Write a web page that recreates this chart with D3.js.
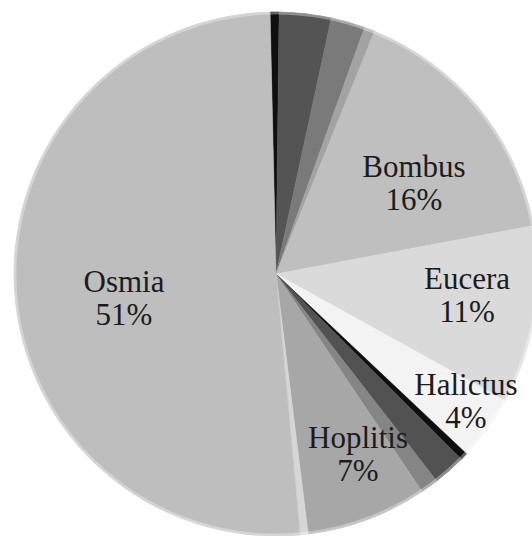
<!DOCTYPE html>
<html>
<head>
<meta charset="utf-8">
<script src="https://cdn.jsdelivr.net/npm/d3@7/dist/d3.min.js"></script>
<style>
  html, body { margin: 0; padding: 0; background: #fff; }
  svg { display: block; }
  text.lbl { font-family: "Liberation Serif", "DejaVu Serif", serif; font-size: 31px; fill: #1c1c1c; }
</style>
</head>
<body>
<svg id="chart" width="532" height="536"></svg>
<script>
// Data (percent share per genus, clockwise from 12 o'clock)
const genera = ["g1", "g2", "g3", "g4", "Bombus", "Eucera", "Halictus", "g5", "g6", "g7", "Hoplitis", "g8", "Osmia"];
const shares = [0.55, 3.2, 2.1, 0.65, 15.9, 11.0, 4.0, 0.45, 2.0, 1.1, 7.45, 0.5, 51.1];
const shareLabels = ["", "", "", "", "16%", "11%", "4%", "", "", "", "7%", "", "51%"];
const fills = ["#0f0f0f", "#545454", "#7a7a7a", "#a3a3a3", "#bfbfbf", "#dadada", "#f3f3f3",
               "#0f0f0f", "#525252", "#858585", "#a7a7a7", "#d6d6d6", "#bebebe"];

const svg = d3.select("#chart");
const cx = 276, cy = 274, R = 262;
const start = -1.3 * Math.PI / 180;

const data = genera.map((g, i) => ({ name: g, value: shares[i], label: shareLabels[i], fill: fills[i] }));

const pie = d3.pie().sort(null).value(d => d.value)
  .startAngle(start).endAngle(start + 2 * Math.PI);
const arc = d3.arc().innerRadius(0).outerRadius(R);

const g = svg.append("g").attr("transform", `translate(${cx},${cy})`);
const arcs = pie(data);

g.selectAll("path.slice").data(arcs).join("path")
  .attr("class", "slice")
  .attr("d", arc)
  .attr("fill", d => d.data.fill)
  .attr("stroke", d => d.data.fill)
  .attr("stroke-width", 0.5);

// subtle light rim
g.append("circle").attr("r", R - 1.2).attr("fill", "none")
  .attr("stroke", "#ffffff").attr("stroke-opacity", 0.35).attr("stroke-width", 2.5);

// label layout: offset of first baseline from pie centre
const labelLayout = {
  Bombus:   { dx: 138, dy: -97 },
  Eucera:   { dx: 191, dy: 15 },
  Halictus: { dx: 190, dy: 121 },
  Hoplitis: { dx: 82,  dy: 174 },
  Osmia:    { dx: -152, dy: 18 }
};
const lineGap = 33;

const labelled = arcs.filter(d => labelLayout[d.data.name]);
const txt = g.selectAll("text.lbl").data(labelled).join("text")
  .attr("class", "lbl")
  .attr("text-anchor", "middle")
  .attr("transform", d => `translate(${labelLayout[d.data.name].dx},${labelLayout[d.data.name].dy})`);
txt.append("tspan").attr("x", 0).attr("y", 0).text(d => d.data.name);
txt.append("tspan").attr("x", 0).attr("y", lineGap).text(d => d.data.label);
</script>
</body>
</html>
